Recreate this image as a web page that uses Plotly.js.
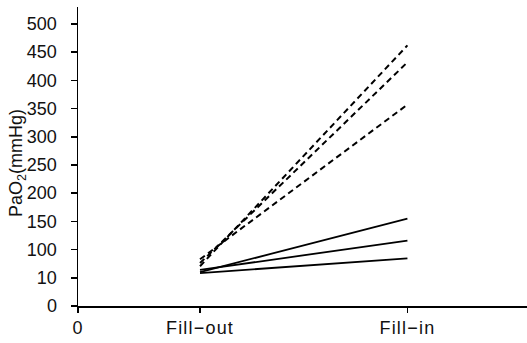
<!DOCTYPE html>
<html>
<head>
<meta charset="utf-8">
<script src="https://cdn.plot.ly/plotly-3.0.1.min.js"></script>
<style>
html,body{margin:0;padding:0;background:#fff;}
#chart{width:527px;height:343px;}
.xtick text{letter-spacing:1.2px;}
</style>
</head>
<body>
<div id="chart"></div>
<script>
// Axis tick labels (broken y scale: 0, 10, 100, 150 ... 500 equally spaced)
var yTickLabels = ["0","10","100","150","200","250","300","350","400","450","500"];
var yTickValues = [0,10,100,150,200,250,300,350,400,450,500];
var xCategories = ["0","Fill\u2212out","Fill\u2212in"];
var xCategoryPos = [0, 1, 2.7];

// PaO2 (mmHg) at Fill-out and Fill-in
var dashedFillOut = [47, 57, 69];
var dashedFillIn  = [462, 432, 357];
var solidFillOut  = [28, 35, 25];
var solidFillIn   = [155, 116, 72];

// piecewise scale: mmHg -> equally spaced tick index
function scaleY(v){
  for (var i=1;i<yTickValues.length;i++){
    if (v<=yTickValues[i]){
      var a=yTickValues[i-1], b=yTickValues[i];
      return (i-1)+(v-a)/(b-a);
    }
  }
  return yTickValues.length-1;
}

var traces=[];
var xs=[xCategoryPos[1], xCategoryPos[2]];
for (var i=0;i<dashedFillOut.length;i++){
  traces.push({x:xs, y:[scaleY(dashedFillOut[i]), scaleY(dashedFillIn[i])], mode:'lines',
    line:{color:'#000', width:2, dash:'6px,4px'}, hoverinfo:'skip', showlegend:false});
}
for (var j=0;j<solidFillOut.length;j++){
  traces.push({x:xs, y:[scaleY(solidFillOut[j]), scaleY(solidFillIn[j])], mode:'lines',
    line:{color:'#000', width:1.8}, hoverinfo:'skip', showlegend:false});
}

var layout={
  width:527, height:343,
  margin:{l:78, r:0, t:7, b:37, pad:0},
  paper_bgcolor:'#fff', plot_bgcolor:'#fff',
  font:{family:'"Liberation Sans", Arial, sans-serif', color:'#111', size:18},
  showlegend:false,
  xaxis:{range:[0,3.68], tickmode:'array', tickvals:xCategoryPos, ticktext:xCategories,
    showgrid:false, zeroline:false, showline:true, linecolor:'#000', linewidth:1.5,
    ticks:'outside', ticklen:5, tickwidth:1.5, tickcolor:'#000',
    tickfont:{size:18, family:'"Liberation Sans", Arial, sans-serif', color:'#111'}, fixedrange:true},
  yaxis:{range:[0,10.6], tickmode:'array', tickvals:yTickLabels.map(function(_,k){return k;}), ticktext:yTickLabels,
    showgrid:false, zeroline:false, showline:true, linecolor:'#000', linewidth:1.5,
    ticks:'outside', ticklen:6, tickwidth:1.5, tickcolor:'#000', ticklabelstandoff:10,
    tickfont:{size:18, family:'"Liberation Sans", Arial, sans-serif', color:'#111'}, fixedrange:true},
  annotations:[{text:'PaO<sub>2</sub>(mmHg)', xref:'paper', yref:'paper',
    x:-(78-17)/449, y:(306-163)/299, xanchor:'center', yanchor:'middle', textangle:-90,
    showarrow:false, font:{size:18, color:'#111'}}]
};
Plotly.newPlot('chart', traces, layout, {displayModeBar:false, staticPlot:true});
</script>
</body>
</html>
